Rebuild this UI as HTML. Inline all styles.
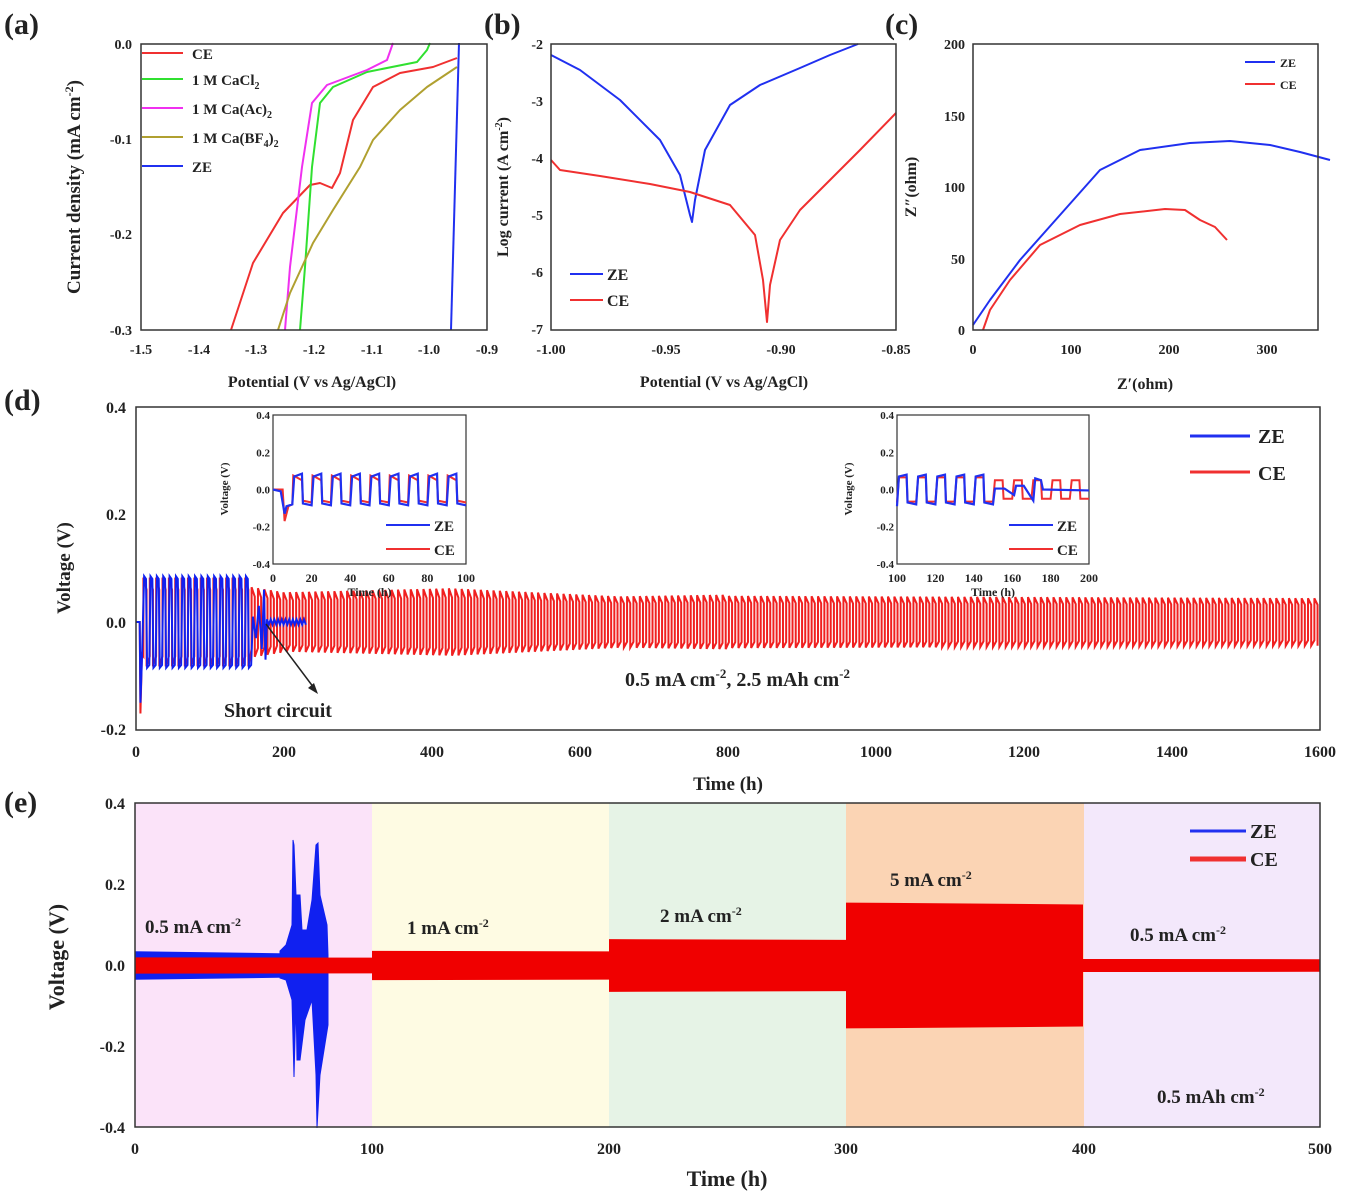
<!DOCTYPE html>
<html><head><meta charset="utf-8"><style>
body{margin:0;background:#fff}
svg{display:block}
text{font-family:"Liberation Serif",serif;font-weight:bold;fill:#222}
</style></head><body>
<svg id="s" width="1346" height="1200" viewBox="0 0 1346 1200" xmlns="http://www.w3.org/2000/svg">
<rect x="135" y="803" width="237" height="324" fill="#fbe3f9"/>
<rect x="372" y="803" width="237" height="324" fill="#fefbe3"/>
<rect x="609" y="803" width="237" height="324" fill="#e6f3e6"/>
<rect x="846" y="803" width="238" height="324" fill="#fbd4b4"/>
<rect x="1084" y="803" width="236" height="324" fill="#f3e8fb"/>
<g id="dyn"></g>

<!-- Panel (a) -->
<g fill="none" stroke-width="2" stroke-linejoin="round">
<polyline stroke="#f03030" points="231,330 253,263 283,213 310,185 320,183 332,188 340,173 353,120 373,87 400,73 433,67 457,58"/>
<polyline stroke="#30e030" points="300,330 305,267 312,167 320,103 333,87 367,72 417,62 427,50 430,43"/>
<polyline stroke="#f030f0" points="285,330 290,267 302,167 312,103 327,85 367,70 387,60 393,43"/>
<polyline stroke="#b0a030" points="278,330 290,293 313,243 333,210 360,167 373,140 400,110 427,87 457,67"/>
<polyline stroke="#2030f0" points="451,330 459,43"/>
</g>
<rect x="141" y="44" width="346" height="286" fill="none" stroke="#333" stroke-width="1.5"/>
<g stroke-width="2">
<line x1="142" y1="53" x2="183" y2="53" stroke="#f03030"/>
<line x1="142" y1="79" x2="183" y2="79" stroke="#30e030"/>
<line x1="142" y1="108" x2="183" y2="108" stroke="#f030f0"/>
<line x1="142" y1="137" x2="183" y2="137" stroke="#b0a030"/>
<line x1="142" y1="166" x2="183" y2="166" stroke="#2030f0"/>
</g>
<g font-size="15">
<text x="192" y="59">CE</text>
<text x="192" y="85">1 M CaCl<tspan font-size="10" dy="4">2</tspan></text>
<text x="192" y="114">1 M Ca(Ac)<tspan font-size="10" dy="4">2</tspan></text>
<text x="192" y="143">1 M Ca(BF<tspan font-size="10" dy="4">4</tspan><tspan dy="-4">)</tspan><tspan font-size="10" dy="4">2</tspan></text>
<text x="192" y="172">ZE</text>
</g>
<g font-size="14" text-anchor="end">
<text x="132" y="49">0.0</text><text x="132" y="144">-0.1</text><text x="132" y="239">-0.2</text><text x="132" y="335">-0.3</text>
</g>
<g font-size="14" text-anchor="middle">
<text x="141" y="354">-1.5</text><text x="199" y="354">-1.4</text><text x="256" y="354">-1.3</text><text x="314" y="354">-1.2</text><text x="372" y="354">-1.1</text><text x="429" y="354">-1.0</text><text x="487" y="354">-0.9</text>
<text x="312" y="387" font-size="16">Potential (V vs Ag/AgCl)</text>
</g>
<text transform="translate(80,187) rotate(-90)" font-size="19" text-anchor="middle">Current density (mA cm<tspan font-size="12" dy="-7">-2</tspan><tspan dy="7">)</tspan></text>
<text x="4" y="34" font-size="30">(a)</text>

<!-- Panel (b) -->
<g fill="none" stroke-width="2" stroke-linejoin="round">
<polyline stroke="#2030f0" points="551,55 580,70 620,100 660,140 680,175 690,215 692,222 695,200 705,150 730,105 760,85 800,68 830,55 858,44"/>
<polyline stroke="#f03030" points="551,160 560,170 600,176 650,184 690,192 730,205 755,235 763,280 767,322 770,285 780,240 800,210 830,180 860,150 896,113"/>
</g>
<rect x="551" y="44" width="345" height="286" fill="none" stroke="#333" stroke-width="1.5"/>
<line x1="570" y1="274" x2="603" y2="274" stroke="#2030f0" stroke-width="2"/>
<line x1="570" y1="300" x2="603" y2="300" stroke="#f03030" stroke-width="2"/>
<text x="607" y="280" font-size="16">ZE</text><text x="607" y="306" font-size="16">CE</text>
<g font-size="14" text-anchor="end">
<text x="543" y="49">-2</text><text x="543" y="106">-3</text><text x="543" y="163">-4</text><text x="543" y="220">-5</text><text x="543" y="277">-6</text><text x="543" y="334">-7</text>
</g>
<g font-size="14" text-anchor="middle">
<text x="551" y="354">-1.00</text><text x="666" y="354">-0.95</text><text x="781" y="354">-0.90</text><text x="896" y="354">-0.85</text>
<text x="724" y="387" font-size="16">Potential (V vs Ag/AgCl)</text>
</g>
<text transform="translate(508,187) rotate(-90)" font-size="16" text-anchor="middle">Log current (A cm<tspan font-size="10" dy="-6">-2</tspan><tspan dy="6">)</tspan></text>
<text x="484" y="34" font-size="30">(b)</text>

<!-- Panel (c) -->
<g fill="none" stroke-width="2" stroke-linejoin="round">
<polyline stroke="#2030f0" points="973,325 990,300 1020,260 1060,215 1100,170 1140,150 1190,143 1230,141 1270,145 1300,152 1330,160"/>
<polyline stroke="#f03030" points="983,330 990,310 1010,280 1040,245 1080,225 1120,214 1165,209 1185,210 1200,220 1215,227 1227,240"/>
</g>
<rect x="973" y="44" width="345" height="286" fill="none" stroke="#333" stroke-width="1.5"/>
<line x1="1245" y1="62" x2="1275" y2="62" stroke="#2030f0" stroke-width="2"/>
<line x1="1245" y1="84" x2="1275" y2="84" stroke="#f03030" stroke-width="2"/>
<text x="1280" y="67" font-size="12">ZE</text><text x="1280" y="89" font-size="12">CE</text>
<g font-size="14" text-anchor="end">
<text x="965" y="49">200</text><text x="965" y="121">150</text><text x="965" y="192">100</text><text x="965" y="264">50</text><text x="965" y="335">0</text>
</g>
<g font-size="14" text-anchor="middle">
<text x="973" y="354">0</text><text x="1071" y="354">100</text><text x="1169" y="354">200</text><text x="1267" y="354">300</text>
<text x="1145" y="389" font-size="16">Z′(ohm)</text>
</g>
<text transform="translate(916,187) rotate(-90)" font-size="16" text-anchor="middle">Z″(ohm)</text>
<text x="885" y="34" font-size="30">(c)</text>

<!-- Panel (d) -->
<rect x="136" y="407" width="1184" height="323" fill="none" stroke="#333" stroke-width="1.5"/>
<g font-size="16" text-anchor="end">
<text x="126" y="413">0.4</text><text x="126" y="520">0.2</text><text x="126" y="628">0.0</text><text x="126" y="735">-0.2</text>
</g>
<g font-size="16" text-anchor="middle">
<text x="136" y="757">0</text><text x="284" y="757">200</text><text x="432" y="757">400</text><text x="580" y="757">600</text><text x="728" y="757">800</text><text x="876" y="757">1000</text><text x="1024" y="757">1200</text><text x="1172" y="757">1400</text><text x="1320" y="757">1600</text>
<text x="728" y="790" font-size="19">Time (h)</text>
</g>
<text transform="translate(70,568) rotate(-90)" font-size="19" text-anchor="middle">Voltage (V)</text>
<text x="4" y="410" font-size="30">(d)</text>
<line x1="1190" y1="436" x2="1250" y2="436" stroke="#2030f0" stroke-width="3"/>
<line x1="1190" y1="472" x2="1250" y2="472" stroke="#f03030" stroke-width="3"/>
<text x="1258" y="443" font-size="20">ZE</text><text x="1258" y="480" font-size="20">CE</text>
<text x="625" y="686" font-size="20">0.5 mA cm<tspan font-size="13" dy="-8">-2</tspan><tspan dy="8">, 2.5 mAh cm</tspan><tspan font-size="13" dy="-8">-2</tspan></text>
<text x="224" y="717" font-size="20">Short circuit</text>

<!-- Panel (e) -->
<rect x="135" y="803" width="1185" height="324" fill="none" stroke="#333" stroke-width="1.5"/>
<g font-size="16" text-anchor="end">
<text x="125" y="809">0.4</text><text x="125" y="890">0.2</text><text x="125" y="971">0.0</text><text x="125" y="1052">-0.2</text><text x="125" y="1133">-0.4</text>
</g>
<g font-size="16" text-anchor="middle">
<text x="135" y="1154">0</text><text x="372" y="1154">100</text><text x="609" y="1154">200</text><text x="846" y="1154">300</text><text x="1084" y="1154">400</text><text x="1320" y="1154">500</text>
<text x="727" y="1186" font-size="22">Time (h)</text>
</g>
<text transform="translate(64,957) rotate(-90)" font-size="22" text-anchor="middle">Voltage (V)</text>
<text x="4" y="812" font-size="30">(e)</text>
<line x1="1190" y1="831" x2="1246" y2="831" stroke="#2030f0" stroke-width="3"/>
<line x1="1190" y1="859" x2="1246" y2="859" stroke="#f03030" stroke-width="5"/>
<text x="1250" y="838" font-size="20">ZE</text><text x="1250" y="866" font-size="20">CE</text>
<g font-size="19">
<text x="145" y="933">0.5 mA cm<tspan font-size="12" dy="-7">-2</tspan></text>
<text x="407" y="934">1 mA cm<tspan font-size="12" dy="-7">-2</tspan></text>
<text x="660" y="922">2 mA cm<tspan font-size="12" dy="-7">-2</tspan></text>
<text x="890" y="886">5 mA cm<tspan font-size="12" dy="-7">-2</tspan></text>
<text x="1130" y="941">0.5 mA cm<tspan font-size="12" dy="-7">-2</tspan></text>
<text x="1157" y="1103">0.5 mAh cm<tspan font-size="12" dy="-7">-2</tspan></text>
</g>
<g id="top"></g>
</svg>
<script>
(function(){
var NS="http://www.w3.org/2000/svg",g=document.getElementById('dyn');
function P(d,c,w,f,par){var p=document.createElementNS(NS,'path');p.setAttribute('d',d);p.setAttribute('stroke',c);p.setAttribute('stroke-width',w);p.setAttribute('fill',f||'none');(par||g).appendChild(p);return p;}
var ex=function(h){return 135+h*2.37},ey=function(v){return 965.5-v*406};
P('M'+ex(0)+','+ey(0.035)+'L'+ex(64)+','+ey(0.03)+'L'+ex(64)+','+ey(-0.03)+'L'+ex(0)+','+ey(-0.035)+'Z','none',0,'#1020f0');
P('M280,951 286,945 292,925 293,840 294,845 296,895 300,895 302,930 307,930 312,900 316,845 318,843 320,895 327,925 328,955 328,1025 320,1075 317,1128 316,1075 312,1000 305,1020 300,1060 297,1060 296,1000 294,1077 292,1000 286,980 280,978Z','#1020f0',1,'#1020f0');
var bands=[[0,100,0.02],[100,200,0.036],[200,300,0.065],[300,400,0.155],[400,500,0.016]];
bands.forEach(function(b){P('M'+ex(b[0])+','+ey(b[2])+'L'+ex(b[1])+','+ey(b[2]*0.97)+'L'+ex(b[1])+','+ey(-b[2]*0.97)+'L'+ex(b[0])+','+ey(-b[2])+'Z','none',0,'#f00000');});
var dx=function(h){return 136+h*0.74},dy=function(v){return 622-v*538};
function amp(h){if(h<150)return 0.075;if(h<200)return 0.06-(h-150)*0.0002;if(h<420)return 0.05+(h-200)*0.00003;if(h<650)return 0.057-(h-420)*0.00006;if(h<800)return 0.043+(h-650)*0.00002;return 0.044-(h-800)*0.000005;}
var d='M'+dx(0)+','+dy(0)+'L'+dx(5)+','+dy(0)+'L'+dx(6)+','+dy(-0.17)+'L'+dx(8)+','+dy(-0.06);
var P2=8.6;
for(var h=10;h<1597;h+=P2){var a=amp(h);d+='L'+dx(h)+','+dy(-a*0.85)+'L'+dx(h)+','+dy(a*1.1)+'L'+dx(h+P2/2)+','+dy(a*0.8)+'L'+dx(h+P2/2)+','+dy(-a*1.1);}
P(d,'#f02020',2);
var b='M'+dx(0)+','+dy(0)+'L'+dx(5)+','+dy(0)+'L'+dx(6)+','+dy(-0.15)+'L'+dx(8)+','+dy(-0.07);
for(var h=10;h<155;h+=P2){b+='L'+dx(h+1)+','+dy(0.085)+'L'+dx(h+3.5)+','+dy(0.08)+'L'+dx(h+5)+','+dy(-0.085)+'L'+dx(h+8)+','+dy(-0.08);}
b+='L'+dx(158)+','+dy(0.01)+'L'+dx(162)+','+dy(-0.03)+'L'+dx(166)+','+dy(0.03)+'L'+dx(170)+','+dy(-0.05)+'L'+dx(173)+','+dy(0.06)+'L'+dx(175)+','+dy(-0.07)+'L'+dx(177)+','+dy(0.005);
for(var h=177;h<230;h+=5){b+='L'+dx(h)+','+dy(0.005)+'L'+dx(h+2.5)+','+dy(-0.005);}
P(b,'#1020f0',2);
var top=document.getElementById('top');
var arr=document.createElementNS(NS,'g');arr.innerHTML='<line x1="266" y1="624" x2="314" y2="688" stroke="#222" stroke-width="1.5"/><polygon points="318,694 308,688 314,683" fill="#222"/>';top.appendChild(arr);
function inset(x0,x1,h0,ze,ce){
 var ix=function(h){return x0+(h-h0)*(x1-x0)/100},iy=function(v){return 489.5-v*186};
 var r=document.createElementNS(NS,'rect');r.setAttribute('x',x0);r.setAttribute('y',415);r.setAttribute('width',x1-x0);r.setAttribute('height',149);r.setAttribute('fill','#fff');r.setAttribute('stroke','#333');r.setAttribute('stroke-width','1.2');top.appendChild(r);
 P(ce(ix,iy),'#f03030',2,null,top);P(ze(ix,iy),'#2030f0',2.2,null,top);
 var t='';[0.4,0.2,0.0,-0.2,-0.4].forEach(function(v){t+='<text x="'+(x0-3)+'" y="'+(iy(v)+4)+'" font-size="11" text-anchor="end">'+v.toFixed(1)+'</text>';});
 for(var k=0;k<=5;k++)t+='<text x="'+ix(h0+k*20)+'" y="582" font-size="12" text-anchor="middle">'+(h0+k*20)+'</text>';
 t+='<text x="'+((x0+x1)/2)+'" y="596" font-size="12" text-anchor="middle">Time (h)</text>';
 t+='<text transform="translate('+(x0-45)+',489) rotate(-90)" font-size="11" text-anchor="middle">Voltage (V)</text>';
 t+='<line x1="'+(x1-80)+'" y1="525" x2="'+(x1-36)+'" y2="525" stroke="#2030f0" stroke-width="2"/><line x1="'+(x1-80)+'" y1="549" x2="'+(x1-36)+'" y2="549" stroke="#f03030" stroke-width="2"/>';
 t+='<text x="'+(x1-32)+'" y="531" font-size="15">ZE</text><text x="'+(x1-32)+'" y="555" font-size="15">CE</text>';
 var gg=document.createElementNS(NS,'g');gg.innerHTML=t;top.appendChild(gg);
}
inset(273,466,0,function(ix,iy){var s='M'+ix(0)+','+iy(0)+'L'+ix(4)+','+iy(-0.01)+'L'+ix(6)+','+iy(-0.13)+'L'+ix(7)+','+iy(-0.09)+'L'+ix(10)+','+iy(-0.08);
 for(var h=10;h<100;h+=10){s+='L'+ix(h+1)+','+iy(0.07)+'L'+ix(h+5)+','+iy(0.085)+'L'+ix(h+5.5)+','+iy(-0.075)+'L'+ix(h+10)+','+iy(-0.085);}return s;},
 function(ix,iy){var s='M'+ix(0)+','+iy(0)+'L'+ix(5)+','+iy(0)+'L'+ix(6)+','+iy(-0.17)+'L'+ix(8)+','+iy(-0.09)+'L'+ix(10)+','+iy(-0.08);
 for(var h=10;h<100;h+=10){s+='L'+ix(h+0.5)+','+iy(0.075)+'L'+ix(h+5)+','+iy(0.05)+'L'+ix(h+5.5)+','+iy(-0.06)+'L'+ix(h+10)+','+iy(-0.07);}return s;});
inset(897,1089,100,function(ix,iy){var s='M'+ix(100)+','+iy(-0.09);
 for(var h=100;h<150;h+=10){s+='L'+ix(h+1)+','+iy(0.07)+'L'+ix(h+5)+','+iy(0.08)+'L'+ix(h+5.5)+','+iy(-0.07)+'L'+ix(h+10)+','+iy(-0.08);}
 s+='L'+ix(151)+','+iy(0.005)+'L'+ix(156)+','+iy(0.005)+'L'+ix(161)+','+iy(-0.03)+'L'+ix(162)+','+iy(0.02)+'L'+ix(166)+','+iy(0.02)+'L'+ix(171)+','+iy(-0.06)+'L'+ix(172)+','+iy(0.06)+'L'+ix(175)+','+iy(0.05)+'L'+ix(176)+','+iy(0)+'L'+ix(200)+','+iy(-0.005);return s;},
 function(ix,iy){var s='M'+ix(100)+','+iy(-0.07);
 for(var h=100;h<200;h+=10){var a=h<150?0.065:0.05;s+='L'+ix(h+1)+','+iy(a)+'L'+ix(h+5)+','+iy(a)+'L'+ix(h+5.5)+','+iy(-a)+'L'+ix(h+10)+','+iy(-a);}return s;});
})();
</script>
</body></html>
